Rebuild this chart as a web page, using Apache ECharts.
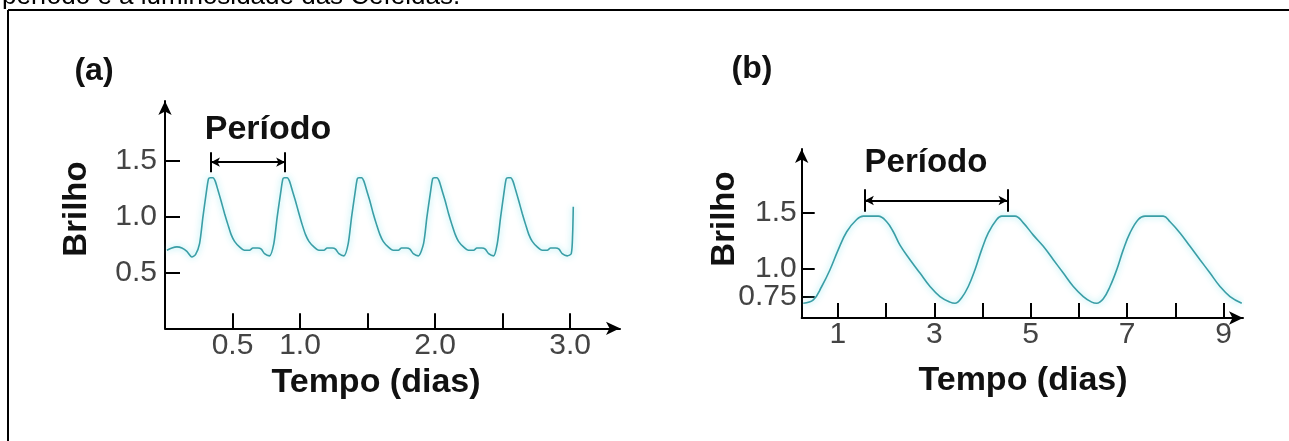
<!DOCTYPE html>
<html><head><meta charset="utf-8">
<script src="https://cdn.jsdelivr.net/npm/echarts@6/dist/echarts.min.js"></script>
<style>html,body{margin:0;padding:0;background:#fff;overflow:hidden}#c{width:1289px;height:441px}</style>
</head><body><div id="c"></div>
<script>
// ---- Panel (a): short-period star ----
const timeA = [0.014,0.051,0.088,0.125,0.162,0.199,0.226,
 0.256,0.281,0.305,0.322,0.335,0.355,0.372,0.392,0.416,0.441,0.466,0.490,0.515,0.552,0.589,0.626,0.651,0.688,0.713,0.737,0.774,
 0.806,0.831,0.856,0.873,0.885,0.905,0.922,0.942,0.967,0.992,1.016,1.041,1.066,1.103,1.140,1.177,1.201,1.239,1.263,1.288,1.325,
 1.357,1.382,1.407,1.424,1.436,1.456,1.473,1.493,1.518,1.542,1.567,1.592,1.616,1.653,1.690,1.728,1.752,1.789,1.814,1.839,1.876,
 1.915,1.940,1.965,1.982,1.994,2.014,2.031,2.051,2.076,2.100,2.125,2.150,2.174,2.211,2.248,2.286,2.310,2.347,2.372,2.397,2.434,
 2.461,2.486,2.510,2.527,2.540,2.560,2.577,2.597,2.621,2.646,2.671,2.695,2.720,2.757,2.794,2.831,2.856,2.893,2.918,2.942,2.979,
 3.009,3.019,3.024];
const brightA = [0.70,0.72,0.73,0.72,0.69,0.64,0.66,
 0.76,1.00,1.21,1.34,1.35,1.35,1.32,1.24,1.14,1.03,0.93,0.84,0.78,0.73,0.70,0.70,0.72,0.72,0.71,0.67,0.65,
 0.76,1.00,1.21,1.34,1.35,1.35,1.32,1.24,1.14,1.03,0.93,0.84,0.78,0.73,0.70,0.70,0.72,0.72,0.71,0.67,0.65,
 0.76,1.00,1.21,1.34,1.35,1.35,1.32,1.24,1.14,1.03,0.93,0.84,0.78,0.73,0.70,0.70,0.72,0.72,0.71,0.67,0.65,
 0.76,1.00,1.21,1.34,1.35,1.35,1.32,1.24,1.14,1.03,0.93,0.84,0.78,0.73,0.70,0.70,0.72,0.72,0.71,0.67,0.65,
 0.76,1.00,1.21,1.34,1.35,1.35,1.32,1.24,1.14,1.03,0.93,0.84,0.78,0.73,0.70,0.70,0.72,0.72,0.71,0.67,0.65,
 0.67,0.84,1.09];
const xTicksA = [0.5,1.0,1.5,2.0,2.5,3.0];
const xLabelsA = [0.5,1.0,2.0,3.0];
const yTicksA = [0.5,1.0,1.5];
const periodA = [0.34,0.89];
const periodLevelA = 1.49;

// ---- Panel (b): longer-period star ----
const timeB = [0.283,0.491,0.665,0.837,1.009,1.184,1.391,1.528,1.839,2.013,2.150,2.289,2.497,2.704,2.912,3.119,3.327,3.430,
 3.569,3.706,3.845,3.984,4.121,4.296,4.399,4.675,4.847,5.055,5.262,5.470,5.677,5.885,6.092,6.267,6.370,
 6.507,6.646,6.785,6.922,7.061,7.233,7.372,7.752,7.891,8.098,8.306,8.513,8.721,8.928,9.136,9.379];
const brightB = [0.69,0.72,0.84,0.99,1.17,1.33,1.44,1.47,1.47,1.42,1.33,1.21,1.08,0.96,0.84,0.75,0.70,0.69,
 0.74,0.84,0.99,1.17,1.32,1.44,1.47,1.47,1.41,1.30,1.20,1.08,0.96,0.84,0.75,0.70,0.69,
 0.73,0.84,0.99,1.17,1.32,1.44,1.47,1.47,1.42,1.32,1.20,1.08,0.96,0.84,0.75,0.69];
const xTicksB = [1,2,3,4,5,6,7,8,9];
const xLabelsB = [1,3,5,7,9];
const yTicksB = [0.75,1.0,1.5];
const periodB = [1.56,4.52];
const periodLevelB = 1.61;

const FONT = "'Liberation Sans', Arial, Helvetica, sans-serif";
const lineColor = '#3a9ea6';

function pairs(xs, ys){ return xs.map((x,i)=>[x, ys[i]]); }
function fmtA(v){ return v.toFixed(1); }
function fmtYB(v){ return Math.abs(v - 0.75) < 1e-9 ? '0.75' : v.toFixed(1); }

function axisCommon(tickLen, tickVals, labelVals, fmt, margin, arrowSize){
  return {
    type: 'value',
    axisLine: {show: true, onZero: false, symbol: ['none','arrow'], symbolSize: arrowSize,
      lineStyle: {color: '#000', width: 2}},
    axisTick: {show: true, inside: true, length: tickLen, customValues: tickVals,
      lineStyle: {color: '#000', width: 2}},
    axisLabel: {show: true, customValues: labelVals, formatter: fmt, margin: margin,
      showMinLabel: true, showMaxLabel: true, hideOverlap: false,
      color: '#444', fontSize: 30, fontFamily: FONT},
    splitLine: {show: false}
  };
}

function periodMark(p, level, cap){
  return {
    silent: true, animation: false,
    symbol: ['none','none'],
    label: {show: false},
    lineStyle: {color: '#000', width: 2, type: 'solid'},
    emphasis: {disabled: true},
    data: [
      [{coord: [p[0], level], symbol: 'arrow', symbolSize: [7,9]}, {coord: [p[1], level], symbol: 'arrow', symbolSize: [7,9]}],
      [{coord: [p[0], level - cap]}, {coord: [p[0], level + cap]}],
      [{coord: [p[1], level - cap]}, {coord: [p[1], level + cap]}]
    ]
  };
}

// panel (b) y ticks are split over two overlaid axes so the close 0.75 / 1.0 labels are both kept
const yTicksBLow = yTicksB.filter(v => v < 1);
const yTicksBHigh = yTicksB.filter(v => v >= 1);
const yRangeB = {min: 0.558, max: 2.071};

const chart = echarts.init(document.getElementById('c'), null, {renderer: 'canvas'});
const option = {
  animation: false,
  backgroundColor: '#fff',
  grid: [
    {left: 165, top: 101, width: 455, height: 227.3, outerBoundsMode: 'none', containLabel: false},
    {left: 801.7, top: 149, width: 441.3, height: 169, outerBoundsMode: 'none', containLabel: false}
  ],
  xAxis: [
    Object.assign(axisCommon(15, xTicksA, xLabelsA, fmtA, 2, [10,14]), {gridIndex: 0, min: 0, max: 3.37}),
    Object.assign(axisCommon(15, xTicksB, xLabelsB, v => String(v), 2, [10,14]), {gridIndex: 1, min: 0.25, max: 9.405})
  ],
  yAxis: [
    Object.assign(axisCommon(15, yTicksA, yTicksA, fmtA, 8, [10,14]), {gridIndex: 0, position: 'left', min: 0, max: 2.039}),
    Object.assign(axisCommon(13, yTicksBHigh, yTicksBHigh, fmtYB, 5, [10,14]), {gridIndex: 1, position: 'left', offset: 0}, yRangeB),
    Object.assign(axisCommon(13, yTicksBLow, yTicksBLow, fmtYB, 5, [10,14]), {gridIndex: 1, position: 'left', offset: 0,
      axisLine: {show: false, onZero: false}}, yRangeB)
  ],
  series: [
    {type: 'line', xAxisIndex: 0, yAxisIndex: 0, data: pairs(timeA, brightA), smooth: 0.25,
     showSymbol: false, symbol: 'none',
     lineStyle: {color: lineColor, width: 1.6, shadowColor: 'rgba(120,225,235,0.9)', shadowBlur: 6},
     markLine: periodMark(periodA, periodLevelA, 0.09)},
    {type: 'line', xAxisIndex: 1, yAxisIndex: 1, data: pairs(timeB, brightB), smooth: 0.4,
     showSymbol: false, symbol: 'none',
     lineStyle: {color: lineColor, width: 1.6, shadowColor: 'rgba(120,225,235,0.9)', shadowBlur: 6},
     markLine: periodMark(periodB, periodLevelB, 0.10)}
  ],
  graphic: [
    {type: 'line', shape: {x1: 8, y1: 10, x2: 1295, y2: 10}, style: {stroke: '#000', lineWidth: 2}, silent: true},
    {type: 'line', shape: {x1: 8, y1: 10, x2: 8, y2: 450}, style: {stroke: '#000', lineWidth: 2}, silent: true},
    {type: 'text', x: 2, y: -3, silent: true,
     style: {text: 'período e a luminosidade das Cefeidas.', font: "26px " + FONT, fill: '#000', align: 'left', verticalAlign: 'middle'}},
    {type: 'text', x: 94, y: 71, silent: true,
     style: {text: '(a)', font: "bold 32px " + FONT, fill: '#111', align: 'center', verticalAlign: 'middle'}},
    {type: 'text', x: 752, y: 69.5, silent: true,
     style: {text: '(b)', font: "bold 32px " + FONT, fill: '#111', align: 'center', verticalAlign: 'middle'}},
    {type: 'text', x: 268, y: 129.5, silent: true,
     style: {text: 'Período', font: "bold 34px " + FONT, fill: '#111', align: 'center', verticalAlign: 'middle'}},
    {type: 'text', x: 926, y: 163, silent: true,
     style: {text: 'Período', font: "bold 33px " + FONT, fill: '#111', align: 'center', verticalAlign: 'middle'}},
    {type: 'text', x: 77, y: 209, rotation: Math.PI / 2, silent: true,
     style: {text: 'Brilho', font: "bold 33px " + FONT, fill: '#111', align: 'center', verticalAlign: 'middle'}},
    {type: 'text', x: 725, y: 219, rotation: Math.PI / 2, silent: true,
     style: {text: 'Brilho', font: "bold 33px " + FONT, fill: '#111', align: 'center', verticalAlign: 'middle'}},
    {type: 'text', x: 376, y: 383, silent: true,
     style: {text: 'Tempo (dias)', font: "bold 34px " + FONT, fill: '#111', align: 'center', verticalAlign: 'middle'}},
    {type: 'text', x: 1023, y: 381, silent: true,
     style: {text: 'Tempo (dias)', font: "bold 34px " + FONT, fill: '#111', align: 'center', verticalAlign: 'middle'}}
  ]
};
chart.setOption(option);
</script>
</body></html>
